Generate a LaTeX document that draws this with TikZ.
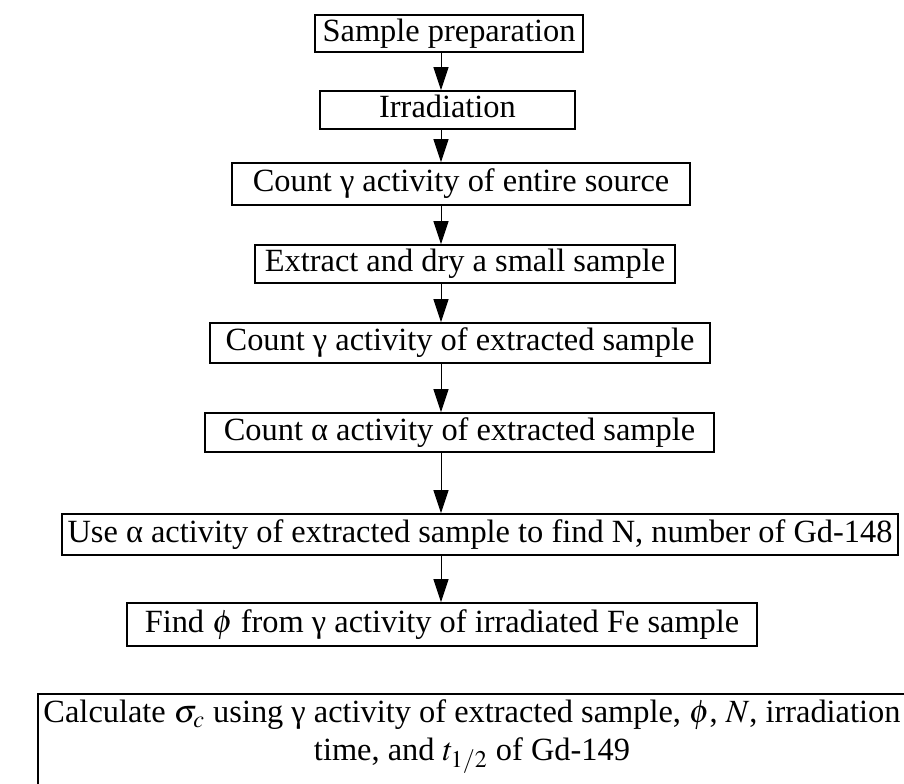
\documentclass[tikz,border=0pt]{standalone}
\usepackage{mathptmx}
\usepackage[no-math]{fontspec}
\setmainfont{Liberation Serif}
\usetikzlibrary{arrows.meta}
\tikzset{
  stepbox/.style={draw, line width=0.8pt, inner sep=0pt, align=center,
    text height=11.6pt, text depth=3.8pt, minimum height=#1},
  stepbox/.default=19.5pt,
  flow/.style={line width=0.5pt, -{Triangle[length=11.5pt, width=7.5pt]}}
}
\begin{document}
\begin{tikzpicture}[x=0.5pt, y=-0.5pt, font=\fontsize{16.2}{19}\selectfont]
  \useasboundingbox (0,0) rectangle (904,783);
  \coordinate (spine) at (441,0);
  \node[stepbox=18.5pt, minimum width=134pt] (prep) at (449,33.5) {Sample preparation};
  \node[stepbox=19pt, minimum width=127.5pt] (irr) at (447.5,110) {Irradiation};
  \node[stepbox=21pt, minimum width=229pt] (cntsrc) at (461,184) {Count γ activity of entire source};
  \node[stepbox=19pt, minimum width=210pt] (extr) at (465,264) {Extract and dry a small sample};
  \node[stepbox=20pt, minimum width=250pt] (cntg) at (460,343) {Count γ activity of extracted sample};
  \node[stepbox=19.5pt, minimum width=254.5pt] (cnta) at (459.5,432.5) {Count α activity of extracted sample};
  \node[stepbox=20.5pt, minimum width=418pt] (findn) at (480,534.5) {Use α activity of extracted sample to find N, number of Gd-148};
  \node[stepbox=21.5pt, minimum width=315pt] (findphi) at (442,624.5) {Find $\phi$ from γ activity of irradiated Fe sample};
  \node[draw, line width=0.8pt, align=center, anchor=north, inner xsep=0pt, inner ysep=3pt,
    text depth=40pt, minimum width=434pt] (calc) at (472,693)
    {Calculate $\sigma_c$ using γ activity of extracted sample, $\phi$, $N$, irradiation\\
     time, and $t_{1/2}$ of Gd-149};
  \draw[flow] (prep.south -| spine) -- (irr.north -| spine);
  \draw[flow] (irr.south -| spine) -- (cntsrc.north -| spine);
  \draw[flow] (cntsrc.south -| spine) -- (extr.north -| spine);
  \draw[flow] (extr.south -| spine) -- (cntg.north -| spine);
  \draw[flow] (cntg.south -| spine) -- (cnta.north -| spine);
  \draw[flow] (cnta.south -| spine) -- (findn.north -| spine);
  \draw[flow] (findn.south -| spine) -- (findphi.north -| spine);
\end{tikzpicture}
\end{document}
